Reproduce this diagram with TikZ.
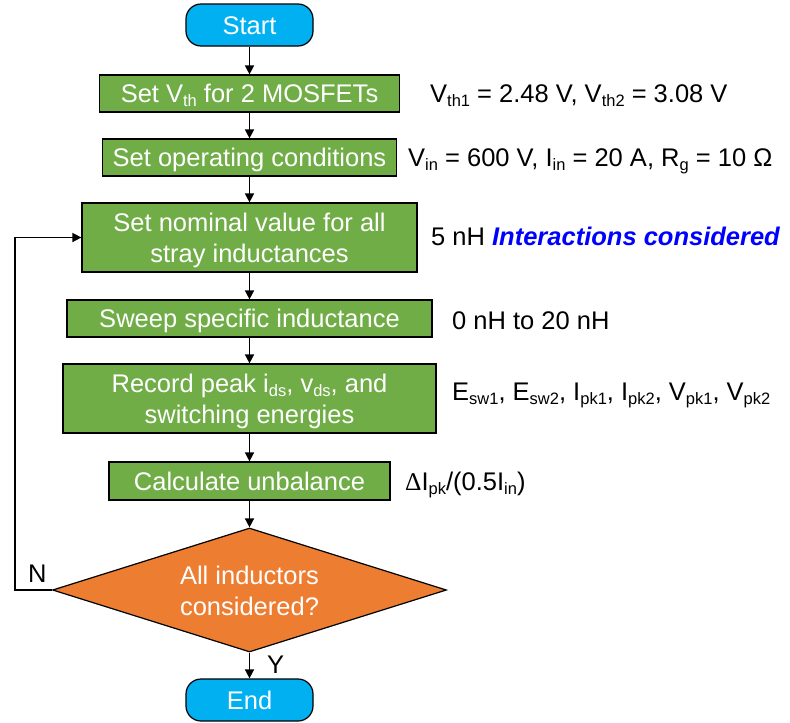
\documentclass[tikz,border=0pt]{standalone}
\usepackage{fontspec}
\setmainfont{Liberation Sans}
\newfontfamily\seriffont{Liberation Serif}
\usetikzlibrary{arrows.meta,shapes.geometric}
\definecolor{boxgreen}{HTML}{70AD47}
\definecolor{decorange}{HTML}{ED7D31}
\definecolor{termblue}{HTML}{00B0F0}
\definecolor{notblue}{HTML}{0000FF}
\newcommand\lowsub[1]{\raisebox{-4pt}{\fontsize{16.5pt}{16.5pt}\selectfont #1}}
\begin{document}
\begin{tikzpicture}[x=1pt,y=-1pt,
  every node/.style={font=\fontsize{25.5pt}{31pt}\selectfont, inner sep=0pt},
  procbox/.style={draw=black, line width=1.2pt, fill=boxgreen, text=white, align=center, text height=18pt, text depth=0pt},
  twoline/.style={text height=49pt},
  termbox/.style={draw=black, line width=1.2pt, fill=termblue, text=white, rounded corners=15pt, minimum width=127pt, minimum height=42pt, text height=18pt, text depth=0pt},
  decbox/.style={diamond, draw=black, line width=1.2pt, fill=decorange, text=white, align=center, minimum width=394pt, minimum height=124pt, aspect=3.18, text height=50pt, text depth=0pt},
  flow/.style={line width=1.5pt, -{Triangle[length=9pt,width=9pt]}},
  note/.style={anchor=base west, text=black}
]
\useasboundingbox (0,0) rectangle (790,723);

\node[termbox] (start) at (249.5,25) {Start};
\node[procbox, minimum width=300pt, minimum height=37pt] (b1) at (249.5,93.5) {Set V\lowsub{th} for 2 MOSFETs};
\node[procbox, minimum width=294pt, minimum height=37pt] (b2) at (249.5,157.5) {Set operating conditions};
\node[procbox, twoline, minimum width=335pt, minimum height=69pt] (b3) at (249.5,237.5) {Set nominal value for all\\stray inductances};
\node[procbox, minimum width=365pt, minimum height=37pt] (b4) at (249.5,318.5) {Sweep specific inductance};
\node[procbox, twoline, minimum width=373pt, minimum height=69pt] (b5) at (249.5,398.5) {Record peak i\lowsub{ds}, v\lowsub{ds}, and\\switching energies};
\node[procbox, minimum width=281pt, minimum height=38pt] (b6) at (249.5,481) {Calculate unbalance};
\node[decbox] (dec) at (249.5,590) {All inductors\\considered?};
\node[termbox] (end) at (249.5,700) {End};

\draw[flow] (start) -- (b1);
\draw[flow] (b1) -- (b2);
\draw[flow] (b2) -- (b3);
\draw[flow] (b3) -- (b4);
\draw[flow] (b4) -- (b5);
\draw[flow] (b5) -- (b6);
\draw[flow] (b6) -- (dec);
\draw[flow] (dec) -- (end);
\coordinate (loopc) at (15,590);
\draw[flow] (dec.west) -- (loopc) |- (b3.west);

\node[note] (lblN) at (28,582) {N};
\node[note] (lblY) at (267,673) {Y};

\node[note] (n1) at (430,102) {V\lowsub{th1} = 2.48 V, V\lowsub{th2} = 3.08 V};
\node[note] (n2) at (408,166) {V\lowsub{in} = 600 V, I\lowsub{in} = 20 A, R\lowsub{g} = 10 Ω};
\node[note] (n3) at (431,245) {5 nH {\bfseries\itshape\color{notblue}Interactions considered}};
\node[note] (n4) at (452,329) {0 nH to 20 nH};
\node[note] (n5) at (452,400) {E\lowsub{sw1}, E\lowsub{sw2}, I\lowsub{pk1}, I\lowsub{pk2}, V\lowsub{pk1}, V\lowsub{pk2}};
\node[note] (n6) at (405,490) {{\seriffont Δ}I\lowsub{pk}/(0.5I\lowsub{in})};
\end{tikzpicture}
\end{document}
